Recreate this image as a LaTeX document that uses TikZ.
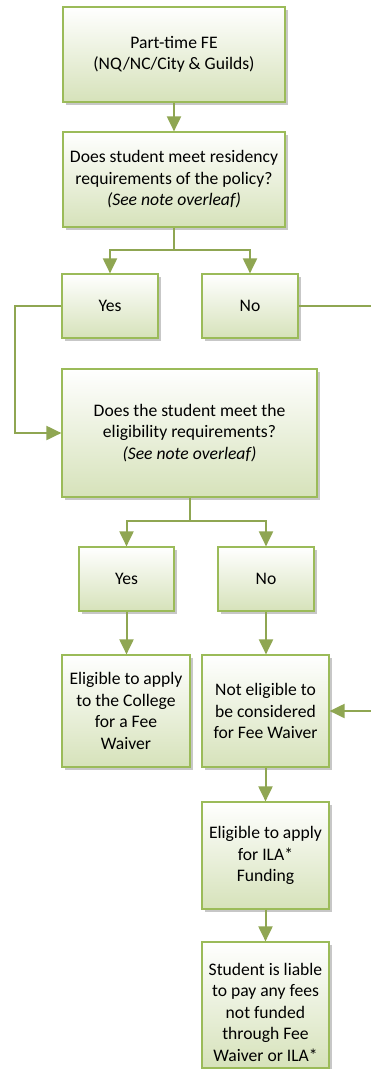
\documentclass[tikz,border=0pt]{standalone}
\usepackage{fontspec}
\setmainfont{Carlito}
\usetikzlibrary{arrows.meta,shadows}
\definecolor{gline}{HTML}{8FA652}
\definecolor{gborder}{HTML}{9BBB59}
\definecolor{gfill}{HTML}{D6E2BA}
\begin{document}
\begin{tikzpicture}[x=1pt,y=-1pt]
\tikzset{
  fbox/.style={draw=gborder,line width=1.2pt,top color=white,bottom color=gfill,
    inner sep=0pt,align=center,font=\fontsize{17.6}{21.5}\selectfont,
    drop shadow={shadow xshift=3pt,shadow yshift=-3pt,fill=black!22,opacity=1}},
  txt/.style={inner sep=0pt,align=center,font=\fontsize{17.6}{21.5}\selectfont},
  arr/.style={draw=gline,line width=2pt,-{Triangle[width=14pt,length=15pt]}}
}
\useasboundingbox (0,0) rectangle (371,1069);
\clip (0,0) rectangle (371,1069);

\node[fbox,minimum width=222pt,minimum height=95pt] (b1) at (174,54.5) {Part-time FE\\(NQ/NC/City \& Guilds)};
\node[fbox,minimum width=222pt,minimum height=95pt] (b2) at (174,179.5) {Does student meet residency\\requirements of the policy?\\\textit{(See note overleaf)}};
\node[fbox,minimum width=96pt,minimum height=64pt] (yes1) at (110,306) {Yes};
\node[fbox,minimum width=96pt,minimum height=64pt] (no1) at (250,306) {No};
\node[fbox,minimum width=255pt,minimum height=128pt] (elig) at (189.5,433) {Does the student meet the\\eligibility requirements?\\\textit{(See note overleaf)}};
\node[fbox,minimum width=95pt,minimum height=64pt] (yes2) at (126.5,579) {Yes};
\node[fbox,minimum width=96pt,minimum height=64pt] (no2) at (266,579) {No};
\node[fbox,minimum width=128pt,minimum height=112pt] (eligfw) at (126,711) {Eligible to apply\\to the College\\for a Fee\\Waiver};
\node[fbox,minimum width=127pt,minimum height=112pt] (notel) at (265.5,711) {Not eligible to\\be considered\\for Fee Waiver};
\node[fbox,minimum width=127pt,minimum height=107pt] (ila) at (265.5,855.5) {Eligible to apply\\for ILA*\\Funding};
\node[fbox,minimum width=127pt,minimum height=126pt] (liab) at (265.5,1005) {};
\node[txt] (liabtxt) at (265.5,1012) {Student is liable\\to pay any fees\\not funded\\through Fee\\Waiver or ILA*};

\coordinate (s1) at (174,250);
\coordinate (l1) at (15,306);
\coordinate (r1) at (374,306);
\coordinate (s2) at (189.5,521);

\draw[arr] (b1.south) -- (b2.north);
\draw[arr] (b2.south) -- (s1) -| (yes1.north);
\draw[arr] (s1) -| (no1.north);
\draw[arr] (yes1.west) -- (l1) |- (elig.west);
\draw[arr] (no1.east) -- (r1) |- (notel.east);
\draw[arr] (elig.south) -- (s2) -| (yes2.north);
\draw[arr] (s2) -| (no2.north);
\draw[arr] (yes2.south) -- (yes2.south|-eligfw.north);
\draw[arr] (no2.south) -- (no2.south|-notel.north);
\draw[arr] (notel.south) -- (ila.north);
\draw[arr] (ila.south) -- (liab.north);
\end{tikzpicture}
\end{document}
